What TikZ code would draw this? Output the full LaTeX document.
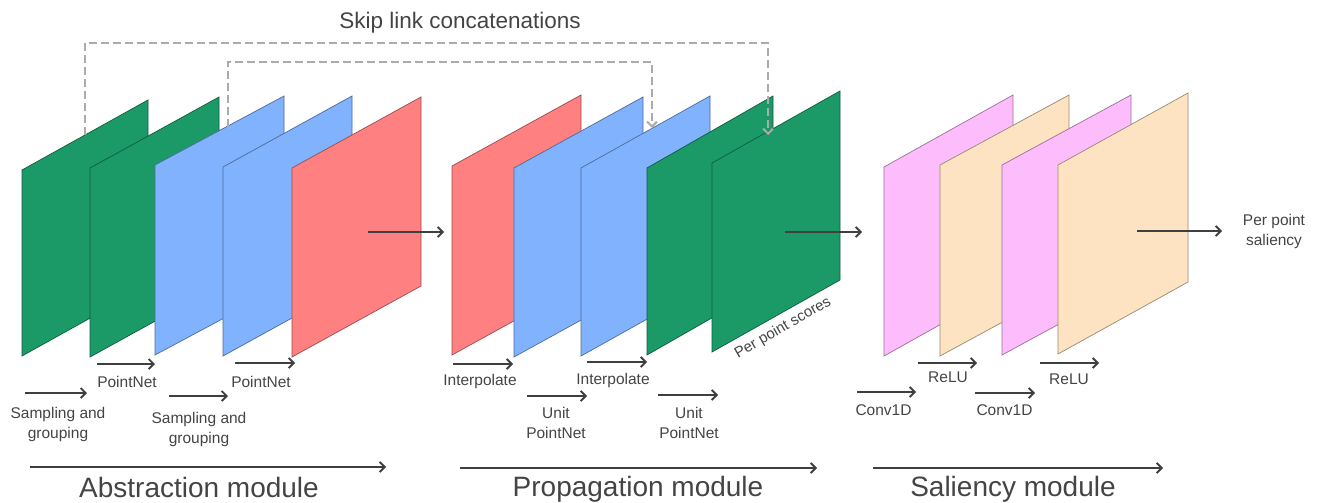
\documentclass[tikz,border=0pt]{standalone}
\usepackage{fontspec}
\setmainfont{Liberation Sans}
\usetikzlibrary{arrows.meta}
\definecolor{pgreen}{HTML}{1B9A67}
\definecolor{pblue}{HTML}{80B2FD}
\definecolor{pred}{HTML}{FE8081}
\definecolor{ppink}{HTML}{FDBDFD}
\definecolor{pbeige}{HTML}{FDE3C1}
\definecolor{txtc}{HTML}{444444}
\definecolor{arrc}{HTML}{3F3F3F}
\definecolor{dashc}{HTML}{ABABAB}
\tikzset{
  planebox/.style={line width=0.7pt},
  arr/.style={draw=arrc, line width=1.8pt, -{Straight Barb[length=5pt,width=10pt,line width=1.8pt]}},
  dashlink/.style={draw=dashc, line width=2pt, dash pattern=on 8pt off 4pt, -{Straight Barb[length=5pt,width=10pt]}},
  lab/.style={font=\fontsize{15.5}{20}\selectfont, text=txtc, align=center, inner sep=0pt, anchor=north},
  modlab/.style={font=\fontsize{28}{32}\selectfont, text=txtc, inner sep=0pt, anchor=north},
}
% \plane{name}{xL}{yTopL}{yBotL}{xR}{yTopR}{color}
\newcommand{\plane}[7]{%
  \pgfmathsetmacro{\hh}{#4-#3}%
  \coordinate (#1-tl) at (#2,#3);
  \coordinate (#1-tr) at (#5,#6);
  \coordinate (#1-br) at (#5,#6+\hh);
  \coordinate (#1-bl) at (#2,#4);
  \path[planebox, fill=#7, draw=#7!60!black] (#1-tl) -- (#1-tr) -- (#1-br) -- (#1-bl) -- cycle;
}
\newcommand{\flow}[4]{%
  \coordinate (#1-s) at (#2,#4);
  \coordinate (#1-e) at (#3,#4);
  \draw[arr] (#1-s) -- (#1-e);
}
\begin{document}
\begin{tikzpicture}[x=1pt,y=-1pt]
\useasboundingbox (0,0) rectangle (1318,503);
% abstraction planes
\plane{a1}{22}{170}{356}{148}{100}{pgreen}
\plane{a2}{90}{168}{357}{219}{97}{pgreen}
\plane{a3}{155}{165}{355}{284}{96}{pblue}
\plane{a4}{223}{167}{356}{352}{96}{pblue}
\plane{a5}{292}{168}{357}{421}{97}{pred}
% propagation planes
\plane{p1}{452}{166}{355}{581}{95}{pred}
\plane{p2}{514}{168}{357}{643}{97}{pblue}
\plane{p3}{581}{168}{356}{710}{96}{pblue}
\plane{p4}{647}{168}{355}{773}{96}{pgreen}
\plane{p5}{712}{163}{352}{840}{91}{pgreen}
% saliency planes
\plane{s1}{884}{167}{356}{1013}{95}{ppink}
\plane{s2}{940}{165}{356}{1069}{95}{pbeige}
\plane{s3}{1002}{165}{355}{1131}{95}{ppink}
\plane{s4}{1058}{165}{354}{1188}{93}{pbeige}

% skip links
\coordinate (k1s) at (85,135);
\coordinate (k1e) at (768,135);
\coordinate (k2s) at (228,127);
\coordinate (k2e) at (652,128);
\draw[dashlink] (k1s) |- (768,43) -- (k1e);
\draw[dashlink] (k2s) |- (652,62) -- (k2e);
\node[font=\fontsize{22.5}{26}\selectfont, text=txtc, inner sep=0pt, anchor=north] (title) at (460,12) {Skip link concatenations};

% module-to-module arrows
\flow{m1}{368}{444}{232}
\flow{m2}{785}{862}{232}
\flow{m3}{1137}{1222}{231}
\node[lab] (out) at (1274,214) {Per point\\saliency};

% abstraction labels
\flow{f1}{25}{87}{393}
\node[lab] (l1) at (58,407) {Sampling and\\grouping};
\flow{f2}{97}{155}{364}
\node[lab] (l2) at (127,376) {PointNet};
\flow{f3}{169}{228}{396}
\node[lab] (l3) at (199,412) {Sampling and\\grouping};
\flow{f4}{235}{295}{363}
\node[lab] (l4) at (261,376) {PointNet};
\flow{ma}{30}{386}{467}
\node[modlab] (mla) at (199,477) {Abstraction module};

% propagation labels
\flow{g1}{453}{513}{364}
\node[lab] (q1) at (480,374) {Interpolate};
\flow{g2}{527}{587}{396}
\node[lab] (q2) at (556,407) {Unit\\PointNet};
\flow{g3}{587}{647}{362}
\node[lab] (q3) at (613,373) {Interpolate};
\flow{g4}{658}{718}{395}
\node[lab] (q4) at (689,407) {Unit\\PointNet};
\flow{mp}{460}{817}{468}
\node[modlab] (mlp) at (638,476) {Propagation module};
\node[font=\fontsize{15}{18}\selectfont, text=txtc, inner sep=0pt, rotate=30] (pps) at (783,328) {Per point scores};

% saliency labels
\flow{h1}{857}{916}{392}
\node[lab] (r1) at (883.5,404) {Conv1D};
\flow{h2}{918}{977}{363}
\node[lab] (r2) at (948,372) {ReLU};
\flow{h3}{975}{1035}{393}
\node[lab] (r3) at (1004.5,404) {Conv1D};
\flow{h4}{1040}{1099}{363}
\node[lab] (r4) at (1069,374) {ReLU};
\flow{ms}{873}{1163}{468}
\node[modlab] (mls) at (1013,476) {Saliency module};
\end{tikzpicture}
\end{document}
